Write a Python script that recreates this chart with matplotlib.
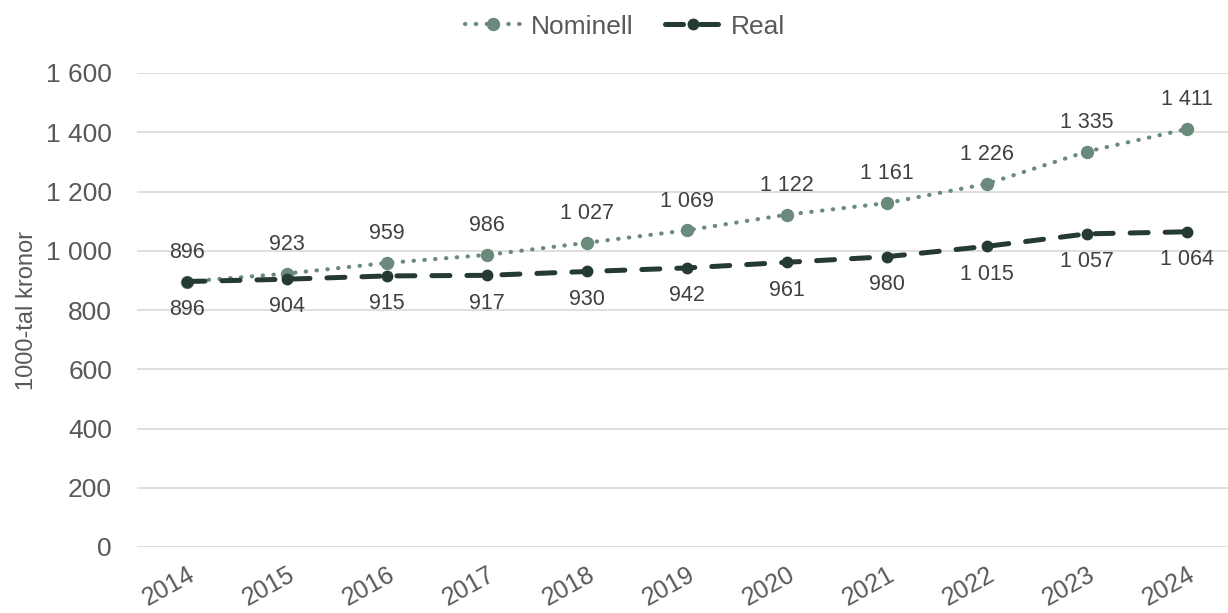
import matplotlib
matplotlib.use("Agg")
import matplotlib.pyplot as plt
from matplotlib.transforms import ScaledTranslation

years = ["2014", "2015", "2016", "2017", "2018", "2019", "2020", "2021", "2022", "2023", "2024"]
nominell = [896, 923, 959, 986, 1027, 1069, 1122, 1161, 1226, 1335, 1411]
real = [896, 904, 915, 917, 930, 942, 961, 980, 1015, 1057, 1064]
yticks = [0, 200, 400, 600, 800, 1000, 1200, 1400, 1600]

def fmt(v):
    return f"{v:,}".replace(",", " ")

plt.rcParams['font.family'] = ['Liberation Sans', 'DejaVu Sans']
text_col = "#595959"
c_nom = "#6a8a7b"
c_real = "#253b31"

fig = plt.figure(figsize=(12.28, 6.13), dpi=100)
ax = fig.add_axes([137/1228, 1 - 547/613, 1 - 137/1228, (547 - 73)/613])

x = list(range(len(years)))
ax.plot(x, nominell, color=c_nom, linestyle=(0, (0.1, 2.5)), linewidth=3.0,
        dash_capstyle='round', marker='o', markersize=8.6, label="Nominell", zorder=3)
ax.plot(x, real, color=c_real, linestyle=(0, (3.6, 3.4)), linewidth=3.6,
        dash_capstyle='round', marker='o', markersize=7.5, label="Real", zorder=3)

for xi, v in zip(x, nominell):
    ax.annotate(fmt(v), (xi, v), xytext=(0, 21), textcoords='offset points',
                ha='center', va='center', fontsize=15.5, color="#404040")
for xi, v in zip(x, real):
    ax.annotate(fmt(v), (xi, v), xytext=(0, -20), textcoords='offset points',
                ha='center', va='center', fontsize=15.5, color="#404040")

ax.set_xlim(-0.5, (1228 - 187) / 100)
ax.set_ylim(0, 1600)
ax.set_yticks(yticks)
ax.set_yticklabels([fmt(v) for v in yticks])
ax.set_xticks(x)
ax.set_xticklabels(years, rotation=29, ha='right', rotation_mode='anchor')
offset = ScaledTranslation(-5 / 72, 0, fig.dpi_scale_trans)
for lbl in ax.get_xticklabels():
    lbl.set_transform(lbl.get_transform() + offset)
ax.grid(axis='y', color="#d9d9d9", linewidth=1.2)
ax.set_axisbelow(True)
for s in ax.spines.values():
    s.set_visible(False)
ax.tick_params(axis='y', length=0, labelsize=19, labelcolor=text_col, pad=18)
ax.tick_params(axis='x', length=0, labelsize=18, labelcolor=text_col, pad=11)
ax.set_ylabel("1000-tal kronor", fontsize=17, color=text_col, labelpad=6)

leg = fig.legend(loc='upper center', bbox_to_anchor=(0.509, 1.015), ncol=2, frameon=False,
                 fontsize=19, handlelength=2.1, columnspacing=1.2, handletextpad=0.4)
for t in leg.get_texts():
    t.set_color(text_col)

fig.savefig("out.png", dpi=100)
